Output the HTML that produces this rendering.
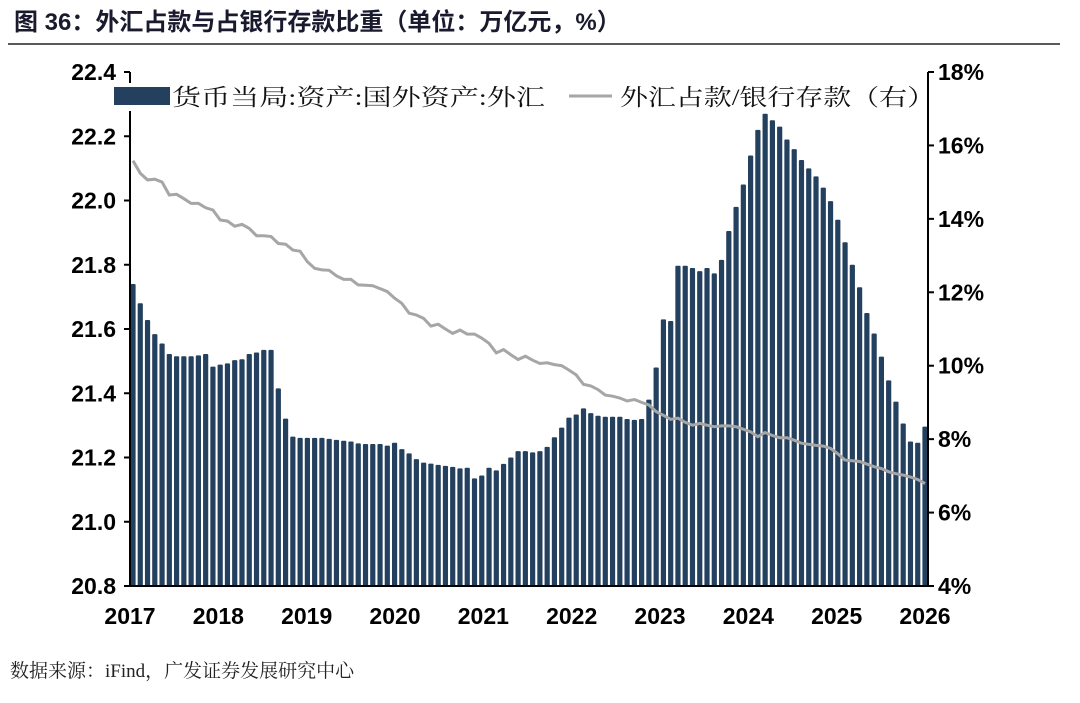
<!DOCTYPE html>
<html><head><meta charset="utf-8"><style>
body{margin:0;background:#fff;width:1080px;height:698px;overflow:hidden;font-family:"Liberation Sans","Noto Sans CJK SC",sans-serif}
</style></head><body>
<svg id="c" width="1080" height="698" xmlns="http://www.w3.org/2000/svg">
<text x="14" y="30" font-size="24" font-weight="bold" fill="#1a1a2e" font-family="Liberation Sans,Noto Sans CJK SC,sans-serif">图 36：外汇占款与占银行存款比重（单位：万亿元，%）</text>
<line x1="8" y1="44" x2="1060" y2="44" stroke="#222" stroke-width="1.5"/>
<g id="bars"></g>
<g id="axes"></g>
<path id="ln" fill="none" stroke="#a6a6a6" stroke-width="3"/>
<g>
<rect x="112" y="83" width="815" height="28" fill="#fff"/>
<rect x="114" y="87" width="56" height="18" fill="#24405f"/>
<text x="172" y="105" font-size="23" textLength="373" lengthAdjust="spacingAndGlyphs" fill="#111" font-family="Liberation Serif,Noto Serif CJK SC,serif">货币当局:资产:国外资产:外汇</text>
<line x1="569" y1="96" x2="612" y2="96" stroke="#a6a6a6" stroke-width="3"/>
<text x="620" y="105" font-size="23" textLength="315" lengthAdjust="spacingAndGlyphs" fill="#111" font-family="Liberation Serif,Noto Serif CJK SC,serif">外汇占款/银行存款（右）</text>
</g>
<rect x="927" y="83" width="10" height="28" fill="#fff"/>
<line x1="928" y1="72" x2="928" y2="586" stroke="#000" stroke-width="2"/>
<text x="10" y="677" font-size="19" fill="#222" font-family="Liberation Serif,Noto Serif CJK SC,serif">数据来源：iFind，广发证券发展研究中心</text>
</svg>
<script>
const bars=[21.74,21.68,21.628,21.584,21.555,21.522,21.515,21.515,21.515,21.518,21.522,21.483,
21.489,21.493,21.503,21.506,21.522,21.527,21.535,21.535,21.415,21.321,21.265,21.261,
21.261,21.261,21.261,21.258,21.255,21.252,21.25,21.244,21.242,21.242,21.242,21.237,
21.246,21.226,21.213,21.195,21.184,21.181,21.177,21.174,21.171,21.166,21.168,21.135,
21.144,21.168,21.16,21.18,21.2,21.22,21.22,21.216,21.22,21.233,21.263,21.293,
21.324,21.334,21.353,21.338,21.33,21.327,21.327,21.327,21.32,21.317,21.32,21.38,
21.48,21.63,21.625,21.797,21.797,21.79,21.78,21.79,21.773,21.815,21.905,21.98,
22.05,22.14,22.22,22.27,22.25,22.23,22.19,22.16,22.126,22.1,22.075,22.04,
21.998,21.94,21.87,21.8,21.73,21.65,21.586,21.514,21.44,21.374,21.306,21.25,21.246,21.296];
const ratio=[15.58,15.24,15.06,15.08,15.0,14.65,14.67,14.55,14.42,14.42,14.3,14.24,
13.97,13.94,13.8,13.85,13.74,13.54,13.54,13.52,13.33,13.31,13.15,13.12,
12.83,12.65,12.61,12.6,12.45,12.35,12.35,12.2,12.19,12.18,12.1,12.02,
11.84,11.7,11.43,11.38,11.29,11.08,11.13,11.0,10.88,10.97,10.86,10.86,
10.75,10.61,10.35,10.44,10.3,10.17,10.26,10.15,10.06,10.08,10.03,10.0,
9.88,9.75,9.49,9.45,9.35,9.2,9.17,9.12,9.04,9.08,9.0,8.93,
8.75,8.65,8.54,8.57,8.46,8.38,8.43,8.38,8.34,8.36,8.36,8.34,
8.27,8.2,8.07,8.18,8.1,8.04,8.04,7.97,7.89,7.86,7.83,7.81,
7.75,7.6,7.43,7.41,7.39,7.32,7.25,7.2,7.11,7.06,7.02,6.97,6.9,6.79];
const leftTicks=["20.8","21.0","21.2","21.4","21.6","21.8","22.0","22.2","22.4"];
const rightTicks=["4%","6%","8%","10%","12%","14%","16%","18%"];
const years=["2017","2018","2019","2020","2021","2022","2023","2024","2025","2026"];
const NS="http://www.w3.org/2000/svg";
const X0=130,X1=928,Y0=586,Y1=72;
const xi=i=>133+i*(925-133)/(bars.length-1);
const yl=v=>Y0-(v-20.8)/(22.4-20.8)*(Y0-Y1);
const yr=v=>Y0-(v-4)/(18-4)*(Y0-Y1);
const xy=k=>X0+k*(925-X0)/(years.length-1);
function mk(t,a,p){const e=document.createElementNS(NS,t);for(const k in a)e.setAttribute(k,a[k]);p.appendChild(e);return e;}
const bg=document.getElementById('bars'),ax=document.getElementById('axes');
bars.forEach((v,i)=>{
 const r=mk('rect',{x:xi(i)-2.6,y:yl(v),width:5.2,height:Y0-yl(v),fill:'#24405f',rx:1},bg);
 
 
});
let d='';ratio.forEach((v,i)=>{d+=(i?'L':'M')+xi(i).toFixed(1)+','+yr(v).toFixed(1);});
document.getElementById('ln').setAttribute('d',d);
mk('line',{x1:X0,y1:Y1,x2:X0,y2:Y0,stroke:'#000','stroke-width':2},ax);
mk('line',{x1:X1,y1:Y1,x2:X1,y2:Y0,stroke:'#000','stroke-width':2},ax);
mk('line',{x1:X0,y1:Y0,x2:X1,y2:Y0,stroke:'#000','stroke-width':2},ax);
leftTicks.forEach(t=>{const y=yl(parseFloat(t));
 mk('line',{x1:X0-6,y1:y,x2:X0,y2:y,stroke:'#000','stroke-width':2},ax);
 const e=mk('text',{x:X0-14,y:y+8,'font-size':23,'font-weight':'bold','text-anchor':'end',fill:'#000'},ax);e.textContent=t;
 
 });
rightTicks.forEach(t=>{const y=yr(parseFloat(t));
 mk('line',{x1:X1,y1:y,x2:X1+6,y2:y,stroke:'#000','stroke-width':2},ax);
 const e=mk('text',{x:X1+10,y:y+8,'font-size':23,'font-weight':'bold',fill:'#000'},ax);e.textContent=t;
 
 });
years.forEach((t,k)=>{const x=xy(k);
 const e=mk('text',{x:x,y:Y0+38,'font-size':23,'font-weight':'bold','text-anchor':'middle',fill:'#000'},ax);e.textContent=t;
 
 });
</script>
</body></html>
